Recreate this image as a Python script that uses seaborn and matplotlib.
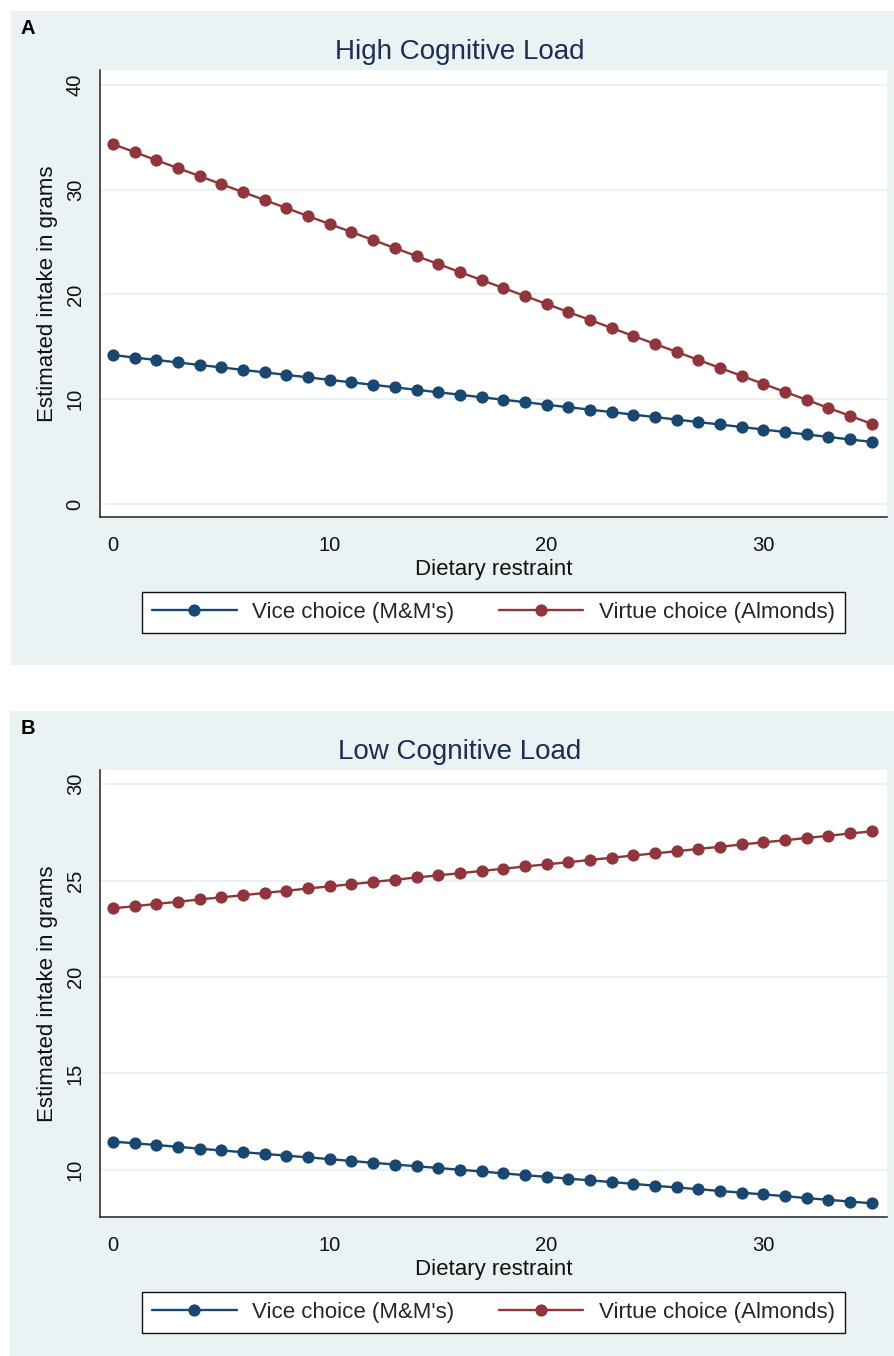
import numpy as np
import pandas as pd
import matplotlib
matplotlib.use("Agg")
import matplotlib.pyplot as plt
from matplotlib.patches import Rectangle
import seaborn as sns

# dietary restraint score (x)
restraint = list(range(36))

# panel A: high cognitive load
high_vice = [14.22, 13.98, 13.75, 13.51, 13.27, 13.04, 12.80, 12.56, 12.33, 12.09,
             11.85, 11.61, 11.38, 11.14, 10.90, 10.67, 10.43, 10.19, 9.96, 9.72,
             9.48, 9.24, 9.01, 8.77, 8.53, 8.30, 8.06, 7.82, 7.59, 7.35,
             7.11, 6.87, 6.64, 6.40, 6.16, 5.93]
high_virtue = [34.35, 33.59, 32.82, 32.06, 31.30, 30.53, 29.77, 29.01, 28.25, 27.48,
               26.72, 25.96, 25.20, 24.43, 23.67, 22.91, 22.14, 21.38, 20.62, 19.86,
               19.09, 18.33, 17.57, 16.80, 16.04, 15.28, 14.52, 13.75, 12.99, 12.23,
               11.46, 10.70, 9.94, 9.17, 8.41, 7.65]

# panel B: low cognitive load
low_vice = [11.47, 11.38, 11.29, 11.20, 11.10, 11.01, 10.92, 10.83, 10.74, 10.65,
            10.56, 10.46, 10.37, 10.28, 10.19, 10.10, 10.01, 9.92, 9.82, 9.73,
            9.64, 9.55, 9.46, 9.37, 9.28, 9.18, 9.09, 9.00, 8.91, 8.82,
            8.73, 8.64, 8.54, 8.45, 8.36, 8.27]
low_virtue = [23.56, 23.67, 23.79, 23.90, 24.02, 24.13, 24.24, 24.36, 24.47, 24.59,
              24.70, 24.81, 24.93, 25.04, 25.16, 25.27, 25.38, 25.50, 25.61, 25.73,
              25.84, 25.95, 26.07, 26.18, 26.30, 26.41, 26.52, 26.64, 26.75, 26.87,
              26.98, 27.09, 27.21, 27.32, 27.44, 27.55]

series_labels = ["Vice choice (M&M's)", "Virtue choice (Almonds)"]
panel_titles = ["High Cognitive Load", "Low Cognitive Load"]
panel_letters = ["A", "B"]
x_ticks = [0, 10, 20, 30]
y_ticks_high = [0, 10, 20, 30, 40]
y_ticks_low = [10, 15, 20, 25, 30]

sns.set_style("white")
plt.rcParams["font.family"] = ["Liberation Sans", "DejaVu Sans"]

BLUE = "#1a476f"
RED = "#90353b"
BG = "#eaf2f3"
TITLE = "#1e2d53"

W, H = 895, 1356
fig = plt.figure(figsize=(W / 100, H / 100), dpi=100)
fig.patch.set_facecolor("white")


def fx(px):
    return px / W


def fy(py):
    return 1 - py / H


panels = [
    dict(vice=high_vice, virtue=high_virtue, yticks=y_ticks_high,
         ylim=(-1.24, 41.43), off=0, bg=(11, 11, 895, 665)),
    dict(vice=low_vice, virtue=low_virtue, yticks=y_ticks_low,
         ylim=(7.56, 30.73), off=700, bg=(10, 711, 895, 1356)),
]

for i, p in enumerate(panels):
    off = p["off"]
    x0, y0, x1, y1 = p["bg"]
    # light blue-gray graph region behind each panel
    fig.patches.append(Rectangle((fx(x0), fy(y1)), fx(x1 - x0), (y1 - y0) / H,
                                 transform=fig.transFigure, facecolor=BG,
                                 edgecolor="none", zorder=-5))

    ax = fig.add_axes([fx(100), fy(517 + off), fx(787), 447 / H])
    ax.set_facecolor("white")

    df = pd.DataFrame({"restraint": restraint, "vice": p["vice"], "virtue": p["virtue"]})
    sns.lineplot(data=df, x="restraint", y="vice", ax=ax, color=BLUE, marker="o",
                 markersize=8.8, markeredgewidth=0, linewidth=1.7, label=series_labels[0])
    sns.lineplot(data=df, x="restraint", y="virtue", ax=ax, color=RED, marker="o",
                 markersize=8.8, markeredgewidth=0, linewidth=1.7, label=series_labels[1])

    ax.set_xlim(-0.6, 35.7)
    ax.set_ylim(*p["ylim"])
    ax.set_xticks(x_ticks)
    ax.set_yticks(p["yticks"])
    ax.set_axisbelow(True)
    ax.yaxis.grid(True, color=BG, linewidth=1.5)
    ax.xaxis.grid(False)

    for s in ["top", "right"]:
        ax.spines[s].set_visible(False)
    for s in ["left", "bottom"]:
        ax.spines[s].set_color("#222222")
        ax.spines[s].set_linewidth(1.1)

    ax.tick_params(axis="both", direction="out", length=6, width=1.1,
                   color="#333333", labelsize=14.5, labelcolor="#111111")
    ax.tick_params(axis="x", pad=8)
    ax.tick_params(axis="y", pad=5, labelrotation=90)
    for lab in ax.get_yticklabels():
        lab.set_va("center")

    ax.set_xlabel("Dietary restraint", fontsize=16, color="#111111")
    ax.set_ylabel("Estimated intake in grams", fontsize=16, color="#111111")
    ax.xaxis.set_label_coords(0.5, (517 - 569) / 447)
    ax.xaxis.label.set_va("center")
    ax.yaxis.set_label_coords(-52 / 787, 0.5)
    ax.yaxis.label.set_va("center")

    handles, labels = ax.get_legend_handles_labels()
    leg = ax.legend(handles, labels, loc="center",
                    bbox_to_anchor=(0.5, (517 - 612.5) / 447), ncol=2,
                    fontsize=16, frameon=True, fancybox=False, edgecolor="#111111",
                    framealpha=1, handlelength=3.8, handletextpad=0.7,
                    columnspacing=2.0, borderpad=0.45, borderaxespad=0)
    leg.get_frame().set_linewidth(1.0)
    leg.get_frame().set_facecolor("white")

    fig.text(fx(460), fy(52 + off), panel_titles[i], ha="center", va="center",
             fontsize=20, color=TITLE)
    fig.text(fx(21), fy(29 + off), panel_letters[i], ha="left", va="center",
             fontsize=14.5, fontweight="bold", color="black")

fig.savefig("out.png", dpi=100)
